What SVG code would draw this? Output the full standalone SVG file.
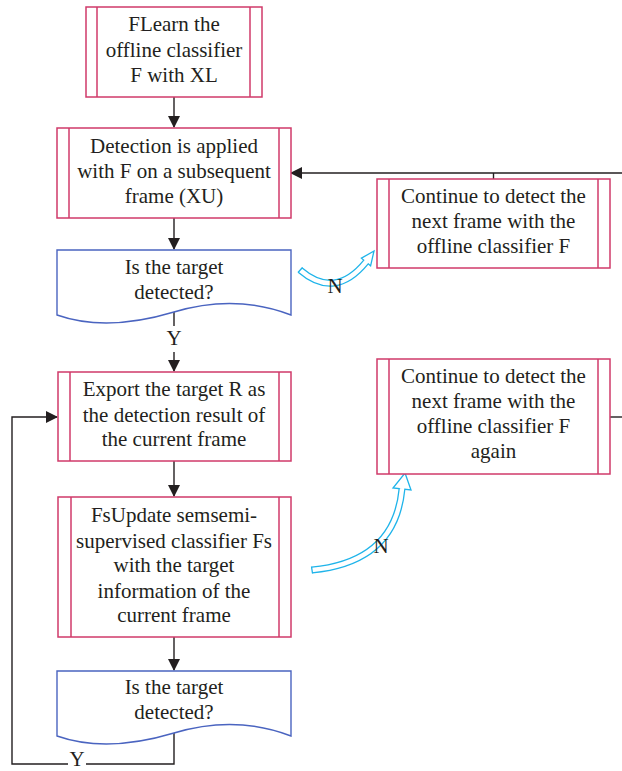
<svg xmlns="http://www.w3.org/2000/svg" width="622" height="771" viewBox="0 0 622 771">
<defs>
<marker id="ah" markerWidth="12" markerHeight="12" refX="11" refY="6" orient="auto" markerUnits="userSpaceOnUse">
<path d="M0,0 L12,6 L0,12 Z" fill="#231f20"/>
</marker>
<style>
.box{fill:#fff;stroke:#d03a6a;stroke-width:1.5}
.doc{fill:#fff;stroke:#4a64c0;stroke-width:1.4}
.ln{fill:none;stroke:#231f20;stroke-width:1.4}
.t{font-family:"Liberation Serif","Times New Roman",serif;font-size:21px;fill:#231f20;text-anchor:middle}
.co{fill:none;stroke:#1fb4ea;stroke-width:7}
.ci{fill:none;stroke:#fff;stroke-width:4.4}
.ch{fill:#fff;stroke:#1fb4ea;stroke-width:1.3;stroke-linejoin:miter}
</style>
</defs>
<rect width="622" height="771" fill="#fff"/>

<g id="connectors">
<line class="ln" x1="174" y1="97" x2="174" y2="127" marker-end="url(#ah)"/>
<line class="ln" x1="174" y1="218" x2="174" y2="249" marker-end="url(#ah)"/>
<line class="ln" x1="174" y1="312" x2="174" y2="326"/>
<line class="ln" x1="174" y1="352" x2="174" y2="371" marker-end="url(#ah)"/>
<text class="t" x="174" y="345">Y</text>
<line class="ln" x1="174" y1="461" x2="174" y2="496" marker-end="url(#ah)"/>
<line class="ln" x1="174" y1="637" x2="174" y2="670" marker-end="url(#ah)"/>
<polyline class="ln" points="174,733 174,764 86,764"/>
<polyline class="ln" points="68,764 12,764 12,417 57,417" marker-end="url(#ah)"/>
<text class="t" x="77" y="765.5" font-size="20">Y</text>
<line class="ln" x1="622" y1="173" x2="291" y2="173" marker-end="url(#ah)"/>
<line class="ln" x1="493.5" y1="173" x2="493.5" y2="179"/>
<line class="ln" x1="610" y1="417" x2="622" y2="417"/>

<path class="co" d="M300,270 Q335,300 366,262"/>
<polygon class="ch" points="374,251 370.6,265.8 361.4,258.2"/>
<path class="ci" d="M300,270 Q335,300 366,262 L367.8,259.8"/>
<line x1="298" y1="272.5" x2="302.5" y2="267.5" stroke="#1fb4ea" stroke-width="1.3"/>
<text class="t" x="335" y="293">N</text>

<path class="co" d="M312,570 Q395,562 402,489"/>
<polygon class="ch" points="405,473 411,490 393,488"/>
<path class="ci" d="M312,570 Q395,562 402,489 L402.2,486"/>
<line x1="311.5" y1="566.5" x2="312.5" y2="573.5" stroke="#1fb4ea" stroke-width="1.3"/>
<text class="t" x="381" y="553">N</text>
</g>

<g id="n1">
<rect class="box" x="86" y="7" width="176" height="90"/>
<line class="box" x1="97" y1="7" x2="97" y2="97"/>
<line class="box" x1="250" y1="7" x2="250" y2="97"/>
<text class="t" x="174" y="31">FLearn the</text>
<text class="t" x="174" y="57">offline classifier</text>
<text class="t" x="174" y="82">F with XL</text>
</g>

<g id="n2">
<rect class="box" x="57" y="128" width="234" height="90"/>
<line class="box" x1="69" y1="128" x2="69" y2="218"/>
<line class="box" x1="279" y1="128" x2="279" y2="218"/>
<text class="t" x="174" y="153">Detection is applied</text>
<text class="t" x="174" y="178">with F on a subsequent</text>
<text class="t" x="174" y="203">frame (XU)</text>
</g>

<g id="n3">
<rect class="box" x="377" y="179" width="233" height="89"/>
<line class="box" x1="389" y1="179" x2="389" y2="268"/>
<line class="box" x1="598" y1="179" x2="598" y2="268"/>
<text class="t" x="493.5" y="203">Continue to detect the</text>
<text class="t" x="493.5" y="228">next frame with the</text>
<text class="t" x="493.5" y="253">offline classifier F</text>
</g>

<g id="n4">
<path class="doc" d="M57,250 H291 V315 C252,300 214,300 174,312 C134,324 94,328 57,315 Z"/>
<text class="t" x="174" y="274">Is the target</text>
<text class="t" x="174" y="299">detected?</text>
</g>

<g id="n5">
<rect class="box" x="58" y="372" width="233" height="89"/>
<line class="box" x1="70" y1="372" x2="70" y2="461"/>
<line class="box" x1="279" y1="372" x2="279" y2="461"/>
<text class="t" x="174" y="396">Export the target R as</text>
<text class="t" x="174" y="422">the detection result of</text>
<text class="t" x="174" y="446">the current frame</text>
</g>

<g id="n6">
<rect class="box" x="377" y="359" width="233" height="115"/>
<line class="box" x1="389" y1="359" x2="389" y2="474"/>
<line class="box" x1="598" y1="359" x2="598" y2="474"/>
<text class="t" x="493.5" y="383">Continue to detect the</text>
<text class="t" x="493.5" y="408">next frame with the</text>
<text class="t" x="493.5" y="433">offline classifier F</text>
<text class="t" x="493.5" y="458">again</text>
</g>

<g id="n7">
<rect class="box" x="58" y="497" width="233" height="140"/>
<line class="box" x1="71" y1="497" x2="71" y2="637"/>
<line class="box" x1="279" y1="497" x2="279" y2="637"/>
<text class="t" x="174" y="522">FsUpdate semsemi-</text>
<text class="t" x="174" y="548">supervised classifier Fs</text>
<text class="t" x="174" y="572">with the target</text>
<text class="t" x="174" y="598">information of the</text>
<text class="t" x="174" y="622">current frame</text>
</g>

<g id="n8">
<path class="doc" d="M57,671 H291 V736 C252,721 214,721 174,733 C134,745 94,749 57,736 Z"/>
<text class="t" x="174" y="694">Is the target</text>
<text class="t" x="174" y="719">detected?</text>
</g>
</svg>
